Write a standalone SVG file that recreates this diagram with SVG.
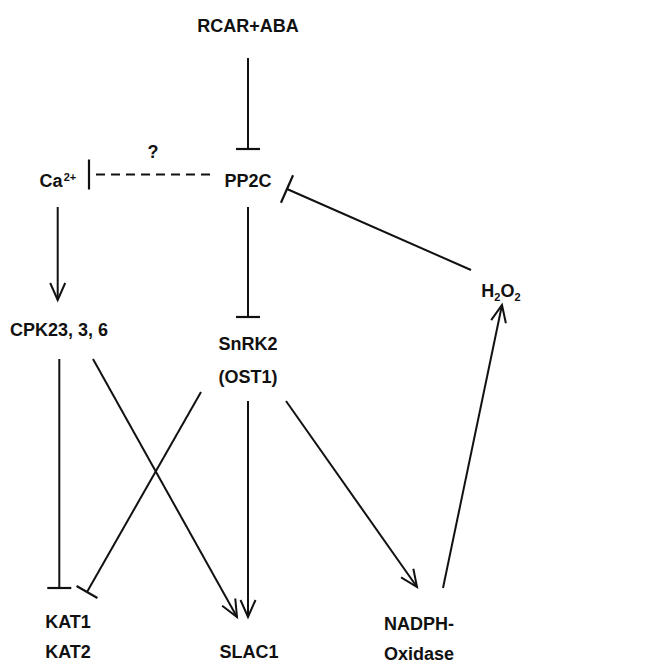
<svg xmlns="http://www.w3.org/2000/svg" width="658" height="664" viewBox="0 0 658 664">
<style>
text{font-family:"Liberation Sans",Arial,sans-serif;font-weight:bold;font-size:18px;fill:#111;text-anchor:middle}
.ln{stroke:#111;stroke-width:2;fill:none}
.dash{stroke-dasharray:9 6}
</style>
<defs>
<marker id="arr" markerUnits="userSpaceOnUse" markerWidth="22" markerHeight="22" viewBox="-19 -11 22 22" refX="0" refY="0" orient="auto">
<path d="M-17,-7.5 L0,0 L-17,7.5" fill="none" stroke="#111" stroke-width="2"/>
</marker>
<marker id="bar" markerUnits="userSpaceOnUse" markerWidth="6" markerHeight="28" viewBox="-3 -14 6 28" refX="0" refY="0" orient="auto">
<path d="M0,-12 L0,12" fill="none" stroke="#111" stroke-width="2.2"/>
</marker>
<marker id="barS" markerUnits="userSpaceOnUse" markerWidth="6" markerHeight="34" viewBox="-3 -17 6 34" refX="0" refY="0" orient="auto">
<path d="M0,-15 L0,15" fill="none" stroke="#111" stroke-width="2.2"/>
</marker>
</defs>
<g id="connectors">
<line class="ln" x1="248" y1="58" x2="248" y2="149" marker-end="url(#bar)"/>
<line class="ln dash" x1="210" y1="174.5" x2="89" y2="174.5" marker-end="url(#barS)"/>
<line class="ln" x1="471" y1="270" x2="287" y2="189" marker-end="url(#barS)"/>
<line class="ln" x1="57.7" y1="207" x2="57.7" y2="300" marker-end="url(#arr)"/>
<line class="ln" x1="248" y1="207" x2="248" y2="317" marker-end="url(#bar)"/>
<line class="ln" x1="59.3" y1="359" x2="59.3" y2="588" marker-end="url(#bar)"/>
<line class="ln" x1="93" y1="359" x2="237" y2="617" marker-end="url(#arr)"/>
<line class="ln" x1="201" y1="392" x2="87" y2="592" marker-end="url(#bar)"/>
<line class="ln" x1="248" y1="401" x2="248" y2="617" marker-end="url(#arr)"/>
<line class="ln" x1="286" y1="401" x2="417" y2="587" marker-end="url(#arr)"/>
<line class="ln" x1="443" y1="588" x2="502" y2="305" marker-end="url(#arr)"/>
</g>
<g id="rcar"><text x="248" y="32">RCAR+ABA</text></g>
<g id="pp2c"><text x="248" y="187">PP2C</text></g>
<g id="q"><text x="153" y="158">?</text></g>
<g id="ca"><text x="51" y="187">Ca</text><text x="70" y="181" style="font-size:11px">2+</text></g>
<g id="h2o2"><text x="501" y="297">H<tspan dy="4" style="font-size:11px">2</tspan><tspan dy="-4">O</tspan><tspan dy="4" style="font-size:11px">2</tspan></text></g>
<g id="cpk"><text x="59" y="336">CPK23, 3, 6</text></g>
<g id="snrk2"><text x="248" y="350">SnRK2</text><text x="248" y="383">(OST1)</text></g>
<g id="kat"><text x="68" y="628">KAT1</text><text x="68" y="658">KAT2</text></g>
<g id="slac1"><text x="249" y="658">SLAC1</text></g>
<g id="nadph"><text x="419" y="630">NADPH-</text><text x="419" y="660">Oxidase</text></g>
</svg>
